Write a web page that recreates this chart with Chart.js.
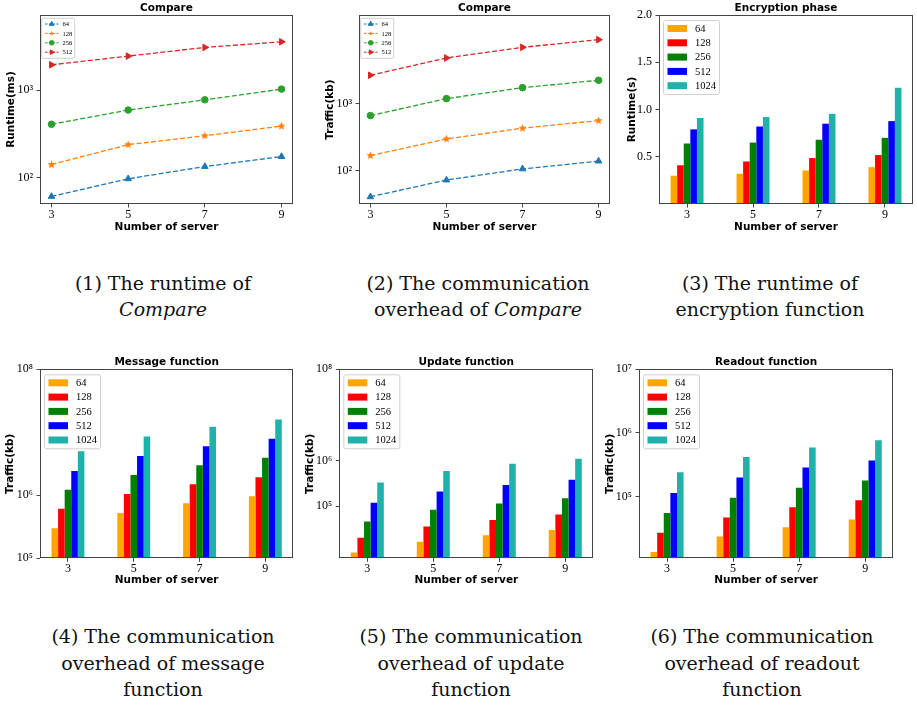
<!DOCTYPE html>
<html>
<head>
<meta charset="utf-8">
<script src="https://cdn.jsdelivr.net/npm/chart.js@4.4.1/dist/chart.umd.min.js"></script>
<style>
  html, body { margin: 0; padding: 0; background: #fff; }
  body { width: 917px; height: 708px; position: relative; overflow: hidden; }
  .panel { position: absolute; }
  .cap {
    position: absolute; transform: translateX(-50%);
    font-family: "DejaVu Serif", serif; font-size: 19px; line-height: 26px;
    text-align: center; white-space: nowrap; color: #111;
  }
  .cap.low { line-height: 26.5px; }
</style>
</head>
<body>
<div class="panel" style="left:0;top:0"><canvas id="c1" width="305" height="240"></canvas></div>
<div class="panel" style="left:305px;top:0"><canvas id="c2" width="310" height="240"></canvas></div>
<div class="panel" style="left:615px;top:0"><canvas id="c3" width="302" height="240"></canvas></div>
<div class="panel" style="left:0;top:350px"><canvas id="c4" width="300" height="240"></canvas></div>
<div class="panel" style="left:300px;top:350px"><canvas id="c5" width="300" height="240"></canvas></div>
<div class="panel" style="left:600px;top:350px"><canvas id="c6" width="317" height="240"></canvas></div>

<div class="cap" style="left:163px;top:270px">(1) The runtime of<br><i>Compare</i></div>
<div class="cap" style="left:478px;top:270px">(2) The communication<br>overhead of <i>Compare</i></div>
<div class="cap" style="left:770px;top:270px">(3) The runtime of<br>encryption function</div>
<div class="cap low" style="left:163px;top:623px">(4) The communication<br>overhead of message<br>function</div>
<div class="cap low" style="left:471px;top:623px">(5) The communication<br>overhead of update<br>function</div>
<div class="cap low" style="left:762px;top:623px">(6) The communication<br>overhead of readout<br>function</div>

<script>
// ---- data ----
const servers = [3, 5, 7, 9];
const lineKeys = ['64', '128', '256', '512'];
const barKeys = ['64', '128', '256', '512', '1024'];

// (1) Compare runtime (ms)
const runtime64 = [61, 97, 134, 174];
const runtime128 = [141, 238, 301, 388];
const runtime256 = [407, 591, 774, 1026];
const runtime512 = [1942, 2443, 3069, 3556];

// (2) Compare traffic (kb)
const traffic64 = [41, 73, 107, 140];
const traffic128 = [169, 300, 434, 564];
const traffic256 = [669, 1200, 1750, 2255];
const traffic512 = [2680, 4860, 7010, 9120];

// (3) encryption runtime (s)
const enc64 = [0.30, 0.32, 0.355, 0.39];
const enc128 = [0.41, 0.45, 0.486, 0.518];
const enc256 = [0.64, 0.65, 0.68, 0.70];
const enc512 = [0.79, 0.82, 0.85, 0.877];
const enc1024 = [0.91, 0.92, 0.954, 1.23];

// (4) message function traffic (kb)
const msg64 = [3.0e5, 5.25e5, 7.5e5, 9.7e5];
const msg128 = [6.1e5, 1.05e6, 1.5e6, 1.94e6];
const msg256 = [1.22e6, 2.1e6, 3.0e6, 3.93e6];
const msg512 = [2.44e6, 4.2e6, 6.0e6, 7.9e6];
const msg1024 = [5.0e6, 8.6e6, 1.22e7, 1.6e7];

// (5) update function traffic (kb)
const upd64 = [9.7e3, 1.66e4, 2.3e4, 3.0e4];
const upd128 = [2.03e4, 3.6e4, 5.0e4, 6.6e4];
const upd256 = [4.6e4, 8.3e4, 1.15e5, 1.5e5];
const upd512 = [1.19e5, 2.1e5, 2.9e5, 3.8e5];
const upd1024 = [3.3e5, 5.9e5, 8.5e5, 1.1e6];

// (6) readout function traffic (kb)
const rd64 = [1.35e4, 2.35e4, 3.3e4, 4.35e4];
const rd128 = [2.7e4, 4.7e4, 6.8e4, 8.75e4];
const rd256 = [5.5e4, 9.6e4, 1.38e5, 1.78e5];
const rd512 = [1.14e5, 2.0e5, 2.85e5, 3.67e5];
const rd1024 = [2.4e5, 4.2e5, 5.9e5, 7.7e5];

// ---- styles ----
const lineColors = ['#1f77b4', '#ff7f0e', '#2ca02c', '#d62728'];
const barColors = ['#ffa500', '#ff0000', '#008000', '#0000ff', '#20b2aa'];
const tickFont = { family: '"Liberation Serif", "Times New Roman", serif', size: 12 };
const axisFont = { family: '"DejaVu Sans", sans-serif', size: 10.5, weight: 'bold' };
const sup = { 2: '\u00b2', 3: '\u00b3', 4: '\u2074', 5: '\u2075', 6: '\u2076', 7: '\u2077', 8: '\u2078' };

function makeStar(color, r) {
  const c = document.createElement('canvas');
  const s = Math.ceil(r * 2) + 2;
  c.width = s; c.height = s;
  const g = c.getContext('2d');
  g.fillStyle = color;
  g.beginPath();
  for (let i = 0; i < 10; i++) {
    const rad = i % 2 === 0 ? r : r * 0.45;
    const ang = -Math.PI / 2 + i * Math.PI / 5;
    const x = s / 2 + rad * Math.cos(ang), y = s / 2 + rad * Math.sin(ang);
    if (i === 0) g.moveTo(x, y); else g.lineTo(x, y);
  }
  g.closePath();
  g.fill();
  return c;
}
const starBig = makeStar(lineColors[1], 4.2);
const markers = [
  { pointStyle: 'triangle', pointRotation: 0, pointRadius: 3.8 },
  { pointStyle: starBig, pointRotation: 0, pointRadius: 4 },
  { pointStyle: 'circle', pointRotation: 0, pointRadius: 3.3 },
  { pointStyle: 'triangle', pointRotation: 90, pointRadius: 3.8 }
];

function roundRect(ctx, x, y, w, h, r) {
  ctx.beginPath();
  ctx.moveTo(x + r, y);
  ctx.arcTo(x + w, y, x + w, y + h, r);
  ctx.arcTo(x + w, y + h, x, y + h, r);
  ctx.arcTo(x, y + h, x, y, r);
  ctx.arcTo(x, y, x + w, y, r);
  ctx.closePath();
}

// frame, title and the legend inside the plot
const decor = {
  id: 'decor',
  afterDraw(chart, args, o) {
    const { ctx, chartArea: a } = chart;
    ctx.save();
    ctx.strokeStyle = '#444';
    ctx.lineWidth = 1;
    ctx.strokeRect(Math.round(a.left) + 0.5, Math.round(a.top) + 0.5,
      Math.round(a.right - a.left) - 1, Math.round(a.bottom - a.top) - 1);

    ctx.fillStyle = '#000';
    ctx.font = 'bold 10.5px "DejaVu Sans", sans-serif';
    ctx.textAlign = 'center';
    ctx.textBaseline = 'middle';
    ctx.fillText(o.title, (a.left + a.right) / 2, a.top - 7);

    const sets = chart.data.datasets;
    if (o.legend === 'bar') {
      roundRect(ctx, a.left + 4.5, a.top + 5.5, 56, 74, 2);
      ctx.fillStyle = 'rgba(255,255,255,0.85)';
      ctx.fill();
      ctx.strokeStyle = '#d0d0d0';
      ctx.stroke();
      ctx.font = '10.5px "Liberation Serif", serif';
      ctx.textAlign = 'left';
      sets.forEach((ds, i) => {
        const cy = a.top + 13.5 + i * 14.3;
        ctx.fillStyle = ds.backgroundColor;
        ctx.fillRect(a.left + 8.5, cy - 3.5, 19.5, 7);
        ctx.fillStyle = '#000';
        ctx.fillText(ds.label, a.left + 36, cy + 0.5);
      });
    } else {
      roundRect(ctx, a.left + 1.7, a.top + 3.3, 33, 40, 1.5);
      ctx.fillStyle = 'rgba(255,255,255,0.85)';
      ctx.fill();
      ctx.strokeStyle = '#d0d0d0';
      ctx.stroke();
      ctx.font = '6.5px "Liberation Serif", serif';
      ctx.textAlign = 'left';
      sets.forEach((ds, i) => {
        const cy = a.top + 9 + i * 9.4;
        const mx = a.left + 11.7;
        ctx.strokeStyle = ds.borderColor;
        ctx.lineWidth = 1;
        ctx.setLineDash([2.6, 1.2]);
        ctx.beginPath();
        ctx.moveTo(a.left + 5, cy);
        ctx.lineTo(a.left + 18.5, cy);
        ctx.stroke();
        ctx.setLineDash([]);
        ctx.fillStyle = ds.borderColor;
        if (ds.pointStyle instanceof HTMLCanvasElement) {
          ctx.drawImage(ds.pointStyle, mx - 3, cy - 3, 6, 6);
        } else {
          Chart.helpers.drawPoint(ctx, {
            pointStyle: ds.pointStyle, rotation: ds.pointRotation,
            radius: ds.pointRadius * 0.7, borderWidth: 1
          }, mx, cy);
        }
        ctx.fillStyle = '#000';
        ctx.fillText(ds.label, a.left + 22.5, cy + 0.5);
      });
    }
    ctx.restore();
  }
};

function logLabel(v) {
  const e = Math.round(Math.log10(v));
  return '10' + sup[e];
}

// p: plot rect inside canvas {l, t, r, b}
function build(id, p, type, datasets, xCfg, yCfg, title, yTitle, yPad, xPad, legend) {
  const cv = document.getElementById(id);
  const W = cv.width, H = cv.height;
  const gridCfg = {
    display: true, drawOnChartArea: false, drawTicks: true,
    tickLength: 3.5, tickColor: '#444', tickWidth: 1, offset: false
  };
  return new Chart(cv, {
    type: type,
    data: { datasets: datasets },
    plugins: [decor],
    options: {
      responsive: false,
      animation: false,
      devicePixelRatio: 1,
      layout: { padding: { left: 0, top: p.t, right: W - p.r, bottom: 0 } },
      plugins: {
        legend: { display: false },
        tooltip: { enabled: false },
        decor: { title: title, legend: legend }
      },
      scales: {
        x: Object.assign({
          offset: false,
          grid: gridCfg,
          border: { display: false },
          title: { display: true, text: 'Number of server', font: axisFont, color: '#000', padding: { top: 0, bottom: xPad } },
          afterFit: s => { s.height = H - p.b; }
        }, xCfg),
        y: Object.assign({
          grid: gridCfg,
          border: { display: false },
          title: { display: true, text: yTitle, font: axisFont, color: '#000', padding: { top: yPad, bottom: 0 } },
          afterFit: s => { s.width = p.l; }
        }, yCfg)
      }
    }
  });
}

function lineSets(series) {
  return series.map((vals, i) => Object.assign({
    label: lineKeys[i],
    data: vals.map((v, j) => ({ x: servers[j], y: v })),
    borderColor: lineColors[i],
    backgroundColor: lineColors[i],
    pointBackgroundColor: lineColors[i],
    pointBorderColor: lineColors[i],
    pointBorderWidth: 1,
    borderWidth: 1.3,
    borderDash: [5, 2.3],
    fill: false,
    tension: 0
  }, markers[i]));
}

function barSets(series) {
  return series.map((vals, i) => ({
    label: barKeys[i],
    data: vals.map((v, j) => ({ x: j, y: v })),
    backgroundColor: barColors[i],
    borderWidth: 0,
    barPercentage: 1,
    categoryPercentage: 0.5
  }));
}

const lineX = {
  type: 'linear', min: 2.7, max: 9.3,
  afterBuildTicks: s => { s.ticks = servers.map(v => ({ value: v })); },
  ticks: { font: tickFont, color: '#000', padding: 0, maxRotation: 0, autoSkip: false, callback: v => String(v) }
};
const barX = {
  type: 'linear', min: -0.425, max: 3.425,
  afterBuildTicks: s => { s.ticks = servers.map((v, i) => ({ value: i })); },
  ticks: { font: tickFont, color: '#000', padding: 0, maxRotation: 0, autoSkip: false, callback: v => String(servers[v]) }
};
function logY(min, max, majors) {
  return {
    type: 'logarithmic', min: min, max: max,
    afterBuildTicks: s => { s.ticks = majors.map(v => ({ value: v, major: true })); },
    ticks: { font: tickFont, color: '#000', padding: 3.5, autoSkip: false, callback: v => logLabel(v) }
  };
}

build('c1', { l: 40, t: 15, r: 293, b: 204 }, 'line',
  lineSets([runtime64, runtime128, runtime256, runtime512]),
  lineX, logY(50, 7200, [100, 1000]),
  'Compare', 'Runtime(ms)', 4.7, 6, 'line');

build('c2', { l: 54, t: 15, r: 308, b: 204 }, 'line',
  lineSets([traffic64, traffic128, traffic256, traffic512]),
  lineX, logY(32, 21300, [100, 1000]),
  'Compare', 'Traffic(kb)', 18.7, 6, 'line');

build('c3', { l: 44, t: 15, r: 298, b: 204 }, 'bar',
  barSets([enc64, enc128, enc256, enc512, enc1024]),
  barX, {
    type: 'linear', min: 0, max: 2,
    afterBuildTicks: s => { s.ticks = [0.5, 1, 1.5, 2].map(v => ({ value: v })); },
    ticks: { font: tickFont, color: '#000', padding: 3.5, autoSkip: false, callback: v => v.toFixed(1) }
  },
  'Encryption phase', 'Runtime(s)', 10.7, 6, 'bar');

build('c4', { l: 40, t: 19.3, r: 293.3, b: 208.3 }, 'bar',
  barSets([msg64, msg128, msg256, msg512, msg1024]),
  barX, logY(1e5, 1e8, [1e5, 1e6, 1e8]),
  'Message function', 'Traffic(kb)', 3.7, 3.7, 'bar');

build('c5', { l: 39.3, t: 19.3, r: 293.3, b: 208.3 }, 'bar',
  barSets([upd64, upd128, upd256, upd512, upd1024]),
  barX, logY(7200, 1e8, [1e5, 1e6, 1e8]),
  'Update function', 'Traffic(kb)', 3.7, 3.7, 'bar');

build('c6', { l: 39, t: 19.3, r: 293.3, b: 208.3 }, 'bar',
  barSets([rd64, rd128, rd256, rd512, rd1024]),
  barX, logY(10700, 1e7, [1e5, 1e6, 1e7]),
  'Readout function', 'Traffic(kb)', 3.7, 3.7, 'bar');
</script>
</body>
</html>
